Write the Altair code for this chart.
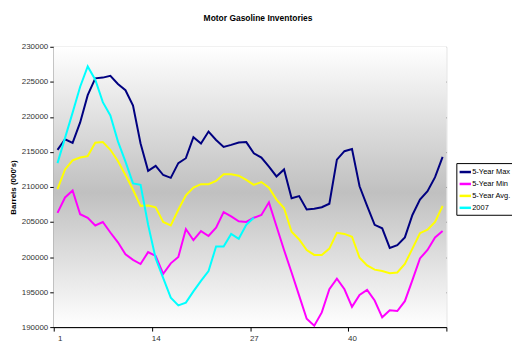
import altair as alt
import pandas as pd

weeks = list(range(1, 53))

max_5yr = [215300, 216800, 216300, 219200, 223100, 225500, 225600, 225850, 224700, 223800,
           221600, 216200, 212300, 213000, 211700, 211300, 213400, 214100, 217100, 216200,
           217900, 216700, 215700, 216000, 216350, 216400, 214800, 214200, 212900, 211500,
           212500, 208400, 208700, 206800, 206900, 207100, 207600, 213900, 215100, 215400,
           210100, 207300, 204600, 204100, 201300, 201700, 202800, 206000, 208200, 209400,
           211400, 214300]

min_5yr = [206300, 208500, 209500, 206100, 205600, 204500, 205000, 203500, 202100, 200400,
           199600, 199000, 200700, 200150, 197600, 199100, 200000, 204000, 202400, 203700,
           203000, 204200, 206400, 205800, 205100, 205000, 205600, 206000, 207800, 204400,
           201000, 197800, 194500, 191200, 190200, 192100, 195400, 196900, 195400, 192900,
           194600, 195300, 193800, 191400, 192400, 192300, 193700, 196700, 199800, 201000,
           202800, 203700]

avg_5yr = [209700, 212500, 213800, 214200, 214400, 216300, 216400, 215300, 213700, 211700,
           209600, 207300, 207350, 207100, 205000, 204500, 206750, 208800, 209900, 210400,
           210400, 210850, 211800, 211800, 211600, 211000, 210300, 210700, 209900, 208200,
           207000, 203600, 202500, 201000, 200300, 200300, 201200, 203450, 203300, 202900,
           199900, 198800, 198200, 198000, 197700, 197800, 199000, 201200, 203400, 203900,
           205000, 207300]

y2007 = [213400, 217000, 220600, 224300, 227200, 225300, 222100, 220200, 216500, 213600,
         210500, 210300, 204600, 199800, 197000, 194200, 193100, 193500, 195100, 196600,
         198000, 201500, 201500, 203300, 202600, 204600, 205600]

series_names = ["5-Year Max", "5-Year Min", "5-Year Avg.", "2007"]
series_colors = ["#000080", "#FF00FF", "#FFFF00", "#00FFFF"]
y_ticks = list(range(190000, 230001, 5000))
x_tick_edges = [0.5, 13.5, 26.5, 39.5, 52.5]

rows = []
for name, vals in zip(series_names, [max_5yr, min_5yr, avg_5yr, y2007]):
    for w, v in zip(weeks, vals):
        rows.append({"week": w, "value": v, "series": name})
df = pd.DataFrame(rows)

W, H = 395, 282
FONT = "Liberation Sans"

bg = alt.Chart(pd.DataFrame({"a": [0]})).mark_rect(
    color=alt.Gradient(
        gradient="linear",
        stops=[
            alt.GradientStop(color="#ffffff", offset=0),
            alt.GradientStop(color="#c0c0c0", offset=0.52),
            alt.GradientStop(color="#ffffff", offset=1),
        ],
        x1=0, x2=0, y1=0, y2=1,
    )
).encode(x=alt.value(0), x2=alt.value(W), y=alt.value(0), y2=alt.value(H))

lines = alt.Chart(df).mark_line(strokeWidth=2).encode(
    x=alt.X(
        "week:Q",
        scale=alt.Scale(domain=[0.5, 52.5], nice=False, zero=False),
        axis=alt.Axis(
            values=x_tick_edges,
            labelExpr="datum.value < 52 ? format(datum.value + 0.5, 'd') : ''",
            labelOffset=3.8,
            title=None,
            grid=False,
            tickSize=4,
            tickColor="#000000",
            domainColor="#000000",
            labelFont=FONT,
            labelFontSize=8,
            labelColor="#333333",
            labelPadding=3,
        ),
    ),
    y=alt.Y(
        "value:Q",
        scale=alt.Scale(domain=[190000, 230000], nice=False, zero=False),
        axis=alt.Axis(
            values=y_ticks,
            format="d",
            title="Barrels (000's)",
            titleFont=FONT,
            titleFontSize=8,
            titleFontWeight="bold",
            titleX=-40,
            titleY=H / 2,
            titleAngle=270,
            titleAlign="center",
            titleBaseline="middle",
            grid=True,
            gridColor={"condition": {"test": "datum.value == 230000", "value": "#c8c8c8"}, "value": "#777777"},
            gridWidth=1,
            tickSize=4,
            tickColor="#000000",
            domainColor="#000000",
            labelFont=FONT,
            labelFontSize=8,
            labelColor="#333333",
            labelPadding=2,
        ),
    ),
    color=alt.Color(
        "series:N",
        scale=alt.Scale(domain=series_names, range=series_colors),
        sort=series_names,
        legend=alt.Legend(
            title=None,
            orient="none",
            legendX=405,
            legendY=117,
            symbolType="stroke",
            symbolStrokeWidth=2.5,
            symbolSize=130,
            labelFont=FONT,
            labelFontSize=7.5,
            labelColor="#000000",
            strokeColor="#000000",
            fillColor="#ffffff",
            padding=2,
            rowPadding=0,
            labelOffset=0,
        ),
    ),
    order=alt.Order("week:Q"),
    detail="series:N",
)

chart = alt.layer(bg, lines).properties(
    width=W,
    height=H,
    title=alt.TitleParams(
        "Motor Gasoline Inventories",
        font=FONT,
        fontSize=8.5,
        fontWeight="bold",
        anchor="middle",
        frame="group",
        dx=8,
        offset=20,
        color="#000000",
    ),
    autosize=alt.AutoSizeParams(type="none"),
    padding={"left": 46, "top": 38, "right": 66, "bottom": 19},
).configure_view(stroke="#c0c0c0", strokeWidth=1).configure(background="#ffffff")

chart.save("out.html", embed_options={"renderer": "svg", "actions": False})
